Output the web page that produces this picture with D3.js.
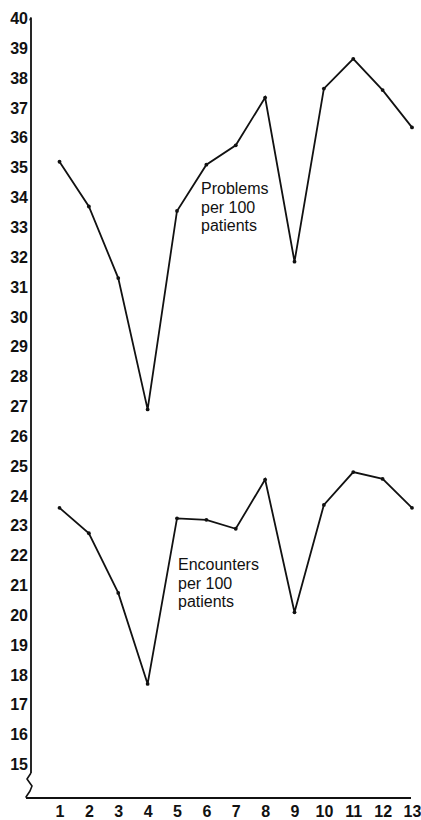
<!DOCTYPE html>
<html>
<head>
<meta charset="utf-8">
<script src="https://cdn.jsdelivr.net/npm/d3@7"></script>
<style>
  html, body { margin: 0; padding: 0; background: #fff; }
  svg { display: block; }
  text { font-family: "Liberation Sans", Arial, Helvetica, sans-serif; fill: #111; }
</style>
</head>
<body>
<script>
// Months / periods along the bottom
const periods = [1, 2, 3, 4, 5, 6, 7, 8, 9, 10, 11, 12, 13];
// Problems per 100 patients
const problems = [35.2, 33.7, 31.3, 26.9, 33.55, 35.1, 35.75, 37.35, 31.85, 37.65, 38.65, 37.6, 36.35];
// Encounters per 100 patients
const encounters = [23.6, 22.75, 20.75, 17.7, 23.25, 23.2, 22.9, 24.55, 20.1, 23.7, 24.8, 24.57, 23.6];
// Vertical axis tick values
const yTicks = d3.range(15, 41);

const W = 421, H = 820;
const svg = d3.select("body").append("svg").attr("width", W).attr("height", H);

const x = d3.scaleLinear().domain([1, 13]).range([59.5, 412]);
const y = d3.scaleLinear().domain([15, 40]).range([764.5, 18.5]);

const axisX = 31;
const baseY = 798;
const ink = "#111";

// Left axis: labels only, the spine is drawn by hand to carry the break
const yAxis = svg.append("g")
  .attr("transform", `translate(${axisX},0)`)
  .call(d3.axisLeft(y).tickValues(yTicks).tickSize(0).tickPadding(3).tickFormat(d3.format("d")));
yAxis.select(".domain").remove();
yAxis.selectAll("text")
  .style("font-size", "16px")
  .style("font-weight", "600")
  .style("font-family", "'Liberation Sans', Arial, sans-serif")
  .attr("fill", ink);

// Spine with a small hook at the top
svg.append("path")
  .attr("d", `M${axisX - 1},${y(40) + 2} L${axisX},${y(40) - 1} L${axisX},773`)
  .attr("fill", "none").attr("stroke", ink).attr("stroke-width", 1.8);

// Axis break squiggle down to the baseline
svg.append("path")
  .attr("d", `M${axisX},773 L27,779 L32,786 L30,791 L26,797 L27,${baseY}`)
  .attr("fill", "none").attr("stroke", ink).attr("stroke-width", 1.6)
  .attr("stroke-linejoin", "round");

// Baseline
svg.append("line")
  .attr("x1", 26).attr("x2", 411).attr("y1", baseY).attr("y2", baseY)
  .attr("stroke", ink).attr("stroke-width", 2);

// Bottom labels
const xAxis = svg.append("g")
  .attr("transform", `translate(0,${baseY})`)
  .call(d3.axisBottom(x).tickValues(periods).tickSize(0).tickPadding(8).tickFormat(d3.format("d")));
xAxis.select(".domain").remove();
xAxis.selectAll("text")
  .style("font-size", "16px")
  .style("font-weight", "600")
  .style("font-family", "'Liberation Sans', Arial, sans-serif")
  .attr("fill", ink);

const line = d3.line().x((d, i) => x(periods[i])).y(d => y(d));

function drawSeries(values) {
  svg.append("path")
    .datum(values)
    .attr("d", line)
    .attr("fill", "none")
    .attr("stroke", ink)
    .attr("stroke-width", 1.8)
    .attr("stroke-linejoin", "miter");
  svg.append("g").selectAll("circle")
    .data(values)
    .join("circle")
    .attr("cx", (d, i) => x(periods[i]))
    .attr("cy", d => y(d))
    .attr("r", 1.9)
    .attr("fill", ink);
}

drawSeries(problems);
drawSeries(encounters);

// Series labels
function label(lines, lx, ly) {
  const t = svg.append("text")
    .attr("x", lx).attr("y", ly)
    .style("font-size", "16px");
  lines.forEach((s, i) => {
    t.append("tspan").attr("x", lx).attr("dy", i === 0 ? 0 : 18.5).text(s);
  });
}
label(["Problems", "per 100", "patients"], 201, 194);
label(["Encounters", "per 100", "patients"], 178, 570);
</script>
</body>
</html>
